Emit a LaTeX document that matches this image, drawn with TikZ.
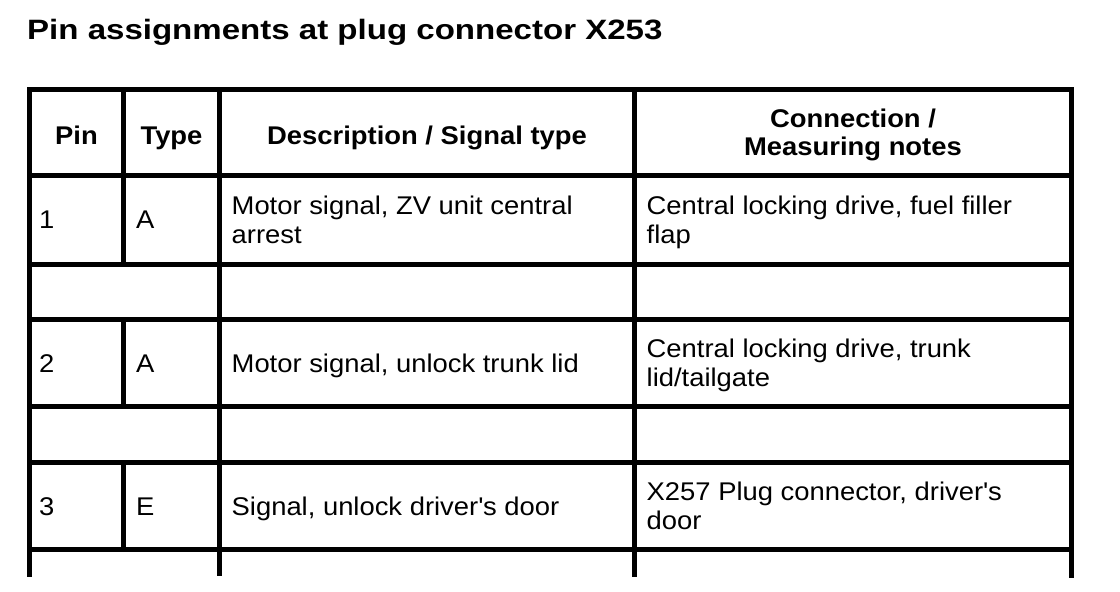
\documentclass[tikz,border=0pt]{standalone}
\usepackage{fontspec}
\setmainfont{Liberation Sans}[FakeStretch=1.07]
\newfontfamily\titlefont{Liberation Sans}[FakeStretch=1.18]
\begin{document}
\begin{tikzpicture}[x=1pt,y=-1pt,
  grid/.style={line width=5pt,black},
  hline/.style={grid,line cap=rect},
  cell/.style={anchor=base west,inner sep=0pt,font=\fontsize{25.6}{29}\selectfont},
  hcell/.style={anchor=base,inner sep=0pt,font=\fontsize{25.6}{29}\selectfont\bfseries},
  ttl/.style={anchor=base west,inner sep=0pt,font=\titlefont\fontsize{28}{32}\selectfont\bfseries}]
\useasboundingbox[fill=white] (0,0) rectangle (1120,592);
% title
\node[ttl] (title) at (27,39.3) {Pin assignments at plug connector X253};
% grid coordinates
\foreach \n/\y in {h0/89.5,h1/175.5,h2/264,h3/319.5,h4/406,h5/462.5,h6/549}{
  \coordinate (\n L) at (29.5,\y);
  \coordinate (\n R) at (1071.5,\y);
}
\foreach \n in {h0,h1,h2,h3,h4,h5,h6}{\draw[hline] (\n L) -- (\n R);}
% vertical lines
\coordinate (v0t) at (29.5,89.5);   \coordinate (v0b) at (29.5,577);
\coordinate (v2t) at (219.5,89.5);  \coordinate (v2b) at (219.5,576);
\coordinate (v3t) at (634.5,89.5);  \coordinate (v3b) at (634.5,577);
\coordinate (v4t) at (1071.5,89.5); \coordinate (v4b) at (1071.5,578);
\foreach \n in {0,2,3,4}{\draw[grid] (v\n t) -- (v\n b);}
\coordinate (p1t) at (123.5,89.5);  \coordinate (p1b) at (123.5,264);
\coordinate (p2t) at (123.5,319.5); \coordinate (p2b) at (123.5,406);
\coordinate (p3t) at (123.5,462.5); \coordinate (p3b) at (123.5,549);
\foreach \n in {1,2,3}{\draw[grid] (p\n t) -- (p\n b);}
% header
\node[hcell] (hpin) at (76.5,144) {Pin};
\node[hcell] (htype) at (171.5,144) {Type};
\node[hcell] (hdesc) at (427,144) {Description / Signal type};
\node[hcell] (hconA) at (853,127) {Connection /};
\node[hcell] (hconB) at (853,155) {Measuring notes};
% row 1
\node[cell] (r1pin) at (39,228.5) {1};
\node[cell] (r1typ) at (136,228.5) {A};
\node[cell] (r1dA) at (231.5,214) {Motor signal, ZV unit central};
\node[cell] (r1dB) at (231.5,243) {arrest};
\node[cell] (r1cA) at (646.5,214) {Central locking drive, fuel filler};
\node[cell] (r1cB) at (646.5,243) {flap};
% row 2
\node[cell] (r2pin) at (39,372) {2};
\node[cell] (r2typ) at (136,372) {A};
\node[cell] (r2d) at (231.5,372) {Motor signal, unlock trunk lid};
\node[cell] (r2cA) at (646.5,357) {Central locking drive, trunk};
\node[cell] (r2cB) at (646.5,386) {lid/tailgate};
% row 3
\node[cell] (r3pin) at (39,515) {3};
\node[cell] (r3typ) at (136,515) {E};
\node[cell] (r3d) at (231.5,515) {Signal, unlock driver\textquotesingle s door};
\node[cell] (r3cA) at (646.5,500) {X257 Plug connector, driver\textquotesingle s};
\node[cell] (r3cB) at (646.5,529) {door};
\end{tikzpicture}
\end{document}
